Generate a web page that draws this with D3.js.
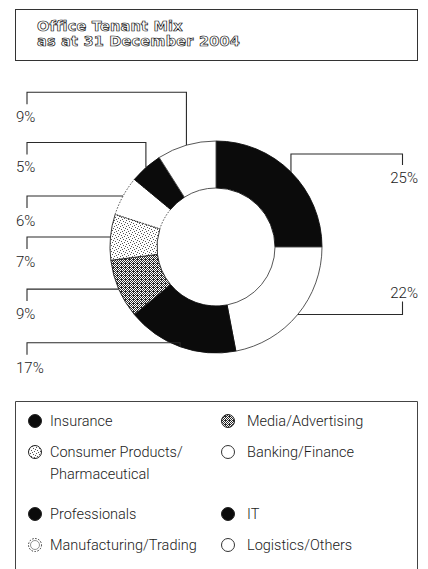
<!DOCTYPE html>
<html>
<head>
<meta charset="utf-8">
<script src="https://cdn.jsdelivr.net/npm/d3@7/dist/d3.min.js"></script>
<style>
  html, body { margin: 0; padding: 0; background: #fff; }
  svg { display: block; }
</style>
</head>
<body>
<svg id="chart" width="428" height="569"></svg>
<script>
// Tenant categories in clockwise order from 12 o'clock, with their share of office space (%)
const categories = [
  "Insurance", "Banking/Finance", "Professionals", "Media/Advertising",
  "Consumer Products/Pharmaceutical", "Manufacturing/Trading", "IT", "Logistics/Others"
];
const shares = [25, 22, 17, 9, 7, 6, 5, 9];

// Legend rows: [left entry, right entry]; an entry's label may wrap onto a second line
const legendRows = [
  [{ key: "Insurance", lines: ["Insurance"] }, { key: "Media/Advertising", lines: ["Media/Advertising"] }],
  [{ key: "Consumer Products/Pharmaceutical", lines: ["Consumer Products/", "Pharmaceutical"] },
   { key: "Banking/Finance", lines: ["Banking/Finance"] }],
  [{ key: "Professionals", lines: ["Professionals"] }, { key: "IT", lines: ["IT"] }],
  [{ key: "Manufacturing/Trading", lines: ["Manufacturing/Trading"] },
   { key: "Logistics/Others", lines: ["Logistics/Others"] }]
];

const titleLines = ["Office Tenant Mix", "as at 31 December 2004"];

const svg = d3.select("#chart");
const defs = svg.append("defs");

// Stipple textures for the two shaded categories
function stipple(id, size, dots, ink) {
  const p = defs.append("pattern").attr("id", id).attr("patternUnits", "userSpaceOnUse")
    .attr("width", size).attr("height", size);
  p.append("rect").attr("width", size).attr("height", size).attr("fill", "#fff");
  dots.forEach(([x, y]) => p.append("rect").attr("x", x).attr("y", y)
    .attr("width", 1).attr("height", 1).attr("fill", ink));
}
stipple("dark-stipple", 4,
  [[0,0],[2,0],[1,1],[3,1],[0,2],[2,2],[1,3],[3,3],[1,0]], "#2a2a2a");
stipple("light-stipple", 6,
  [[1,0],[4,1],[0,3],[3,4],[5,5],[2,2]], "#555");

const style = {
  "Insurance": { fill: "#0b0b0b", stroke: "#111", dash: null },
  "Banking/Finance": { fill: "#fff", stroke: "#444", dash: null },
  "Professionals": { fill: "#0b0b0b", stroke: "#111", dash: null },
  "Media/Advertising": { fill: "url(#dark-stipple)", stroke: "#222", dash: null },
  "Consumer Products/Pharmaceutical": { fill: "url(#light-stipple)", stroke: "#222", dash: null },
  "Manufacturing/Trading": { fill: "#fff", stroke: "#333", dash: "1.5,1.5" },
  "IT": { fill: "#0b0b0b", stroke: "#111", dash: null },
  "Logistics/Others": { fill: "#fff", stroke: "#444", dash: null }
};

// ---- Title box ----
svg.append("rect").attr("x", 15.5).attr("y", 9.5).attr("width", 402).attr("height", 51)
  .attr("fill", "none").attr("stroke", "#333").attr("stroke-width", 1);
svg.append("g").selectAll("text").data(titleLines).join("text")
  .attr("x", 37).attr("y", (d, i) => 31 + i * 15)
  .attr("font-family", "DejaVu Sans").attr("font-weight", "bold").attr("font-size", 14.5)
  .attr("letter-spacing", 0.2)
  .attr("fill", "#fff").attr("stroke", "#111").attr("stroke-width", 0.7)
  .text(d => d);

// ---- Donut ----
const cx = 216, cy = 247, rOuter = 106, rInner = 59;
const data = categories.map((c, i) => ({ category: c, value: shares[i] }));
const pie = d3.pie().sort(null).value(d => d.value).startAngle(0).endAngle(2 * Math.PI);
const arcs = pie(data);
const arc = d3.arc().innerRadius(rInner).outerRadius(rOuter);

const g = svg.append("g").attr("transform", `translate(${cx},${cy})`);
g.selectAll("path").data(arcs).join("path")
  .attr("d", arc)
  .attr("fill", d => style[d.data.category].fill)
  .attr("stroke", d => style[d.data.category].stroke)
  .attr("stroke-width", 0.9)
  .attr("stroke-dasharray", d => style[d.data.category].dash);

// ---- Leader lines and percentage labels ----
// side: which way the leader runs; rise: how far the leader climbs before turning
const leaderLayout = {
  "Insurance": { side: "right", rise: 18, below: true },
  "Banking/Finance": { side: "right", rise: 0, below: false },
  "Professionals": { side: "left", rise: 4 },
  "Media/Advertising": { side: "left", rise: 0 },
  "Consumer Products/Pharmaceutical": { side: "left", rise: 0 },
  "Manufacturing/Trading": { side: "left", rise: 0 },
  "IT": { side: "left", rise: 25 },
  "Logistics/Others": { side: "left", rise: 53 }
};
const leftX = 27, rightX = 402.5;
const leaders = svg.append("g").attr("fill", "none").attr("stroke", "#2a2a2a").attr("stroke-width", 1.1);
const labels = svg.append("g").attr("font-family", "Roboto").attr("font-weight", 300)
  .attr("font-size", 15).attr("fill", "#1a1a1a");

arcs.forEach(a => {
  const mid = (a.startAngle + a.endAngle) / 2;
  const ax = cx + rOuter * Math.sin(mid);
  const ay = cy - rOuter * Math.cos(mid);
  const L = leaderLayout[a.data.category];
  const knee = ay - L.rise;
  const txt = `${a.data.value}%`;
  let pts;
  if (L.side === "left") {
    pts = [[ax, ay], [ax, knee], [leftX, knee], [leftX, knee + 12]];
    labels.append("text").attr("x", 16).attr("y", knee + 30).text(txt);
  } else if (L.below) {
    pts = [[ax, ay], [ax, knee], [rightX, knee], [rightX, knee + 11]];
    labels.append("text").attr("x", 418).attr("y", knee + 29).attr("text-anchor", "end").text(txt);
  } else {
    pts = [[ax, ay], [rightX, ay], [rightX, ay - 13]];
    labels.append("text").attr("x", 418).attr("y", ay - 17).attr("text-anchor", "end").text(txt);
  }
  leaders.append("path").attr("d", d3.line()(pts));
});

// ---- Legend ----
svg.append("path").attr("d", "M15.5,575V401.5H417.5V575")
  .attr("fill", "none").attr("stroke", "#444").attr("stroke-width", 1);

const colIcon = [35, 228], colText = [50, 247];
let rowY = 426;
legendRows.forEach(row => {
  row.forEach((entry, c) => {
    const st = style[entry.key];
    const icon = svg.append("g");
    icon.append("circle").attr("cx", colIcon[c]).attr("cy", rowY - 5).attr("r", 6.5)
      .attr("fill", st.fill).attr("stroke", st.fill === "#fff" ? "#333" : "#222")
      .attr("stroke-width", 1).attr("stroke-dasharray", st.dash);
    if (st.dash) {
      // dotted keys get a faint inner ring
      icon.append("circle").attr("cx", colIcon[c]).attr("cy", rowY - 5).attr("r", 4.5)
        .attr("fill", "none").attr("stroke", "#777").attr("stroke-width", 0.8);
    }
    const t = svg.append("text").attr("x", colText[c]).attr("y", rowY)
      .attr("font-family", "Roboto").attr("font-weight", 300).attr("font-size", 14.5)
      .attr("fill", "#1a1a1a");
    entry.lines.forEach((ln, j) =>
      t.append("tspan").attr("x", colText[c]).attr("dy", j === 0 ? 0 : 22).text(ln));
  });
  const nLines = d3.max(row, e => e.lines.length);
  rowY += 31 + (nLines - 1) * 31;
});
</script>
</body>
</html>
